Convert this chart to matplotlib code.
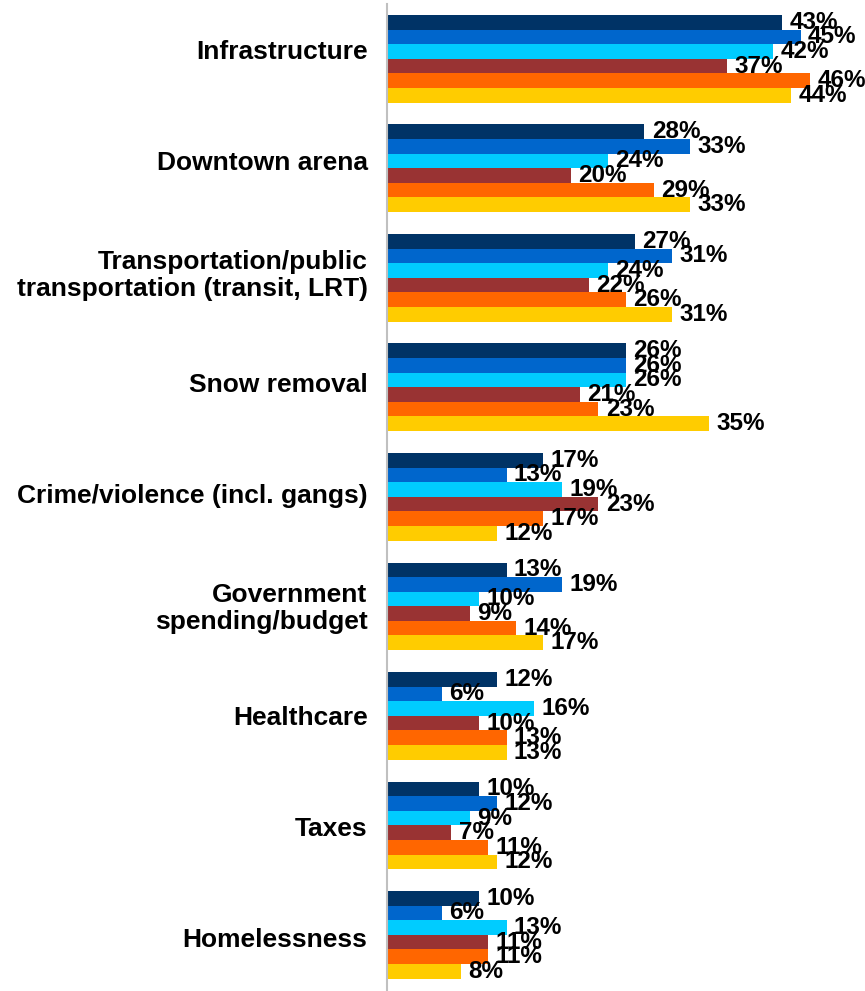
import matplotlib.pyplot as plt
import numpy as np

plt.rcParams['font.family'] = ['Liberation Sans', 'DejaVu Sans']

# Data
categories = ['Infrastructure', 'Downtown arena',
              'Transportation/public\ntransportation (transit, LRT)',
              'Snow removal', 'Crime/violence (incl. gangs)',
              'Government\nspending/budget', 'Healthcare', 'Taxes', 'Homelessness']

series_1 = [43, 28, 27, 26, 17, 13, 12, 10, 10]
series_2 = [45, 33, 31, 26, 13, 19, 6, 12, 6]
series_3 = [42, 24, 24, 26, 19, 10, 16, 9, 13]
series_4 = [37, 20, 22, 21, 23, 9, 10, 7, 11]
series_5 = [46, 29, 26, 23, 17, 14, 13, 11, 11]
series_6 = [44, 33, 31, 35, 12, 17, 13, 12, 8]

all_series = [series_1, series_2, series_3, series_4, series_5, series_6]
colors = ['#003366', '#0066cc', '#00ccff', '#993333', '#ff6600', '#ffcc00']

fig = plt.figure(figsize=(8.65, 9.91), dpi=100)
ax = fig.add_axes([387 / 865, 0, 1 - 387 / 865, 987 / 991])

y = np.arange(len(categories))
h = 0.1333

for j, vals in enumerate(all_series):
    pos = y + (j - 2.5) * h
    ax.barh(pos, vals, height=h, color=colors[j], linewidth=0)
    for p, v in zip(pos, vals):
        ax.text(v + 0.8, p, f'{v}%', va='center', ha='left',
                fontsize=17.5, fontweight='bold', color='black')

ax.set_xlim(0, 52)
ax.set_ylim(8.513, -0.5)
# category labels sit slightly off the group centres, like the original
ax.set_yticks(-0.08 + 1.0128 * y)
ax.set_yticklabels(categories, fontsize=19, fontweight='bold', linespacing=1.15)
ax.tick_params(axis='y', length=0, pad=14)
ax.set_xticks([])

for s in ['top', 'right', 'bottom']:
    ax.spines[s].set_visible(False)
ax.spines['left'].set_color('#c0c0c0')
ax.spines['left'].set_linewidth(1.5)

fig.savefig('out.png', dpi=100)
